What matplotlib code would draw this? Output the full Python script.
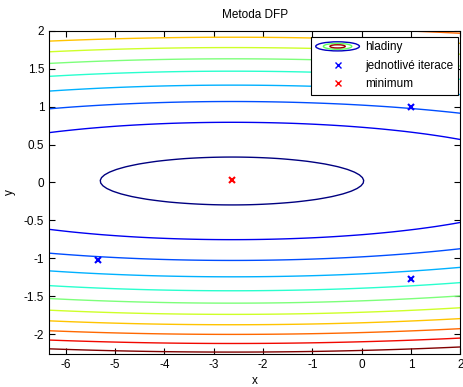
import matplotlib

matplotlib.use("Agg")
import matplotlib.pyplot as plt
import numpy as np
from matplotlib.legend_handler import HandlerBase
from matplotlib.patches import Ellipse

plt.rcParams["font.family"] = ["Liberation Sans", "DejaVu Sans"]
plt.rcParams["axes.unicode_minus"] = False

# quadratic objective
x_center, y_center = -2.63, 0.02
x_weight = 0.014
levels = [0.1, 0.6, 1.1, 1.6, 2.1, 2.6, 3.1, 3.6, 4.1, 4.6, 5.1]

iter_x = [1.0, -5.34, 1.0]
iter_y = [1.0, -1.02, -1.27]
min_x, min_y = [-2.63], [0.03]

x_ticks = [-6, -5, -4, -3, -2, -1, 0, 1, 2]
y_ticks = [-2, -1.5, -1, -0.5, 0, 0.5, 1, 1.5, 2]


class ContourIcon(HandlerBase):
    def create_artists(self, legend, orig, xd, yd, w, h, fs, trans):
        cx, cy = xd + w / 2, yd + h / 2
        out = []
        for sc, col in [(1.0, "#0000c0"), (0.65, "#60ff60"), (0.35, "#a00000")]:
            e = Ellipse((cx, cy), w * sc, h * 1.1 * sc, fill=False, ec=col, lw=1,
                        transform=trans)
            out.append(e)
        return out


fig = plt.figure(figsize=(4.63, 3.87), dpi=100)
ax = fig.add_axes([0.106, 0.085, 0.888, 0.835])

gx = np.linspace(-6.34, 2, 120)
gy = np.linspace(-2.265, 2, 120)
X, Y = np.meshgrid(gx, gy)
Z = x_weight * (X - x_center) ** 2 + (Y - y_center) ** 2
cs = ax.contour(X, Y, Z, levels=levels, cmap="jet", linewidths=1)

ax.plot(iter_x, iter_y, "x", color="#0000ff", ms=4, mew=1.5)
ax.plot(min_x, min_y, "x", color="#ff0000", ms=4, mew=1.5)

ax.set_xlim(-6.34, 2)
ax.set_ylim(-2.265, 2)
ax.set_xticks(x_ticks)
ax.set_yticks(y_ticks)
ax.set_yticklabels(["-2", "-1.5", "-1", "-0.5", "0", "0.5", "1", "1.5", "2"])
ax.tick_params(direction="in", top=True, right=True, labelsize=8.5, length=4, width=0.8)
for s in ax.spines.values():
    s.set_linewidth(0.8)
ax.set_xlabel("x", fontsize=8.5, labelpad=3)
ax.set_ylabel("y", fontsize=8.5, labelpad=6)
ax.set_title("Metoda DFP", fontsize=8.5, pad=9)

h_cont = plt.Line2D([], [], color="k")
h_it = plt.Line2D([], [], ls="none", marker="x", color="#0000ff", ms=4, mew=1)
h_min = plt.Line2D([], [], ls="none", marker="x", color="#ff0000", ms=4, mew=1)
leg = ax.legend([h_cont, h_it, h_min], ["hladiny", "jednotlivé iterace", "minimum"],
                handler_map={h_cont: ContourIcon()}, loc="upper right",
                bbox_to_anchor=(0.995, 0.982), fontsize=8.5, fancybox=False,
                framealpha=1, edgecolor="black", borderpad=0.4, labelspacing=0.55,
                handlelength=3.7, handletextpad=0.5, borderaxespad=0)
leg.get_frame().set_linewidth(0.8)

fig.savefig("out.png", dpi=100)
